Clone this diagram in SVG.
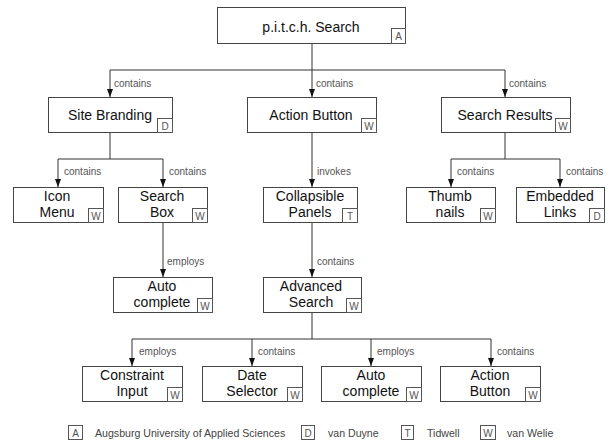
<svg xmlns="http://www.w3.org/2000/svg" width="607" height="443" viewBox="0 0 607 443">
<defs>
<style>
.box{fill:#fff;stroke:#444;stroke-width:1}
.bdg{fill:#fff;stroke:#555;stroke-width:1}
.t{font-family:"Liberation Sans",Arial,sans-serif;font-size:14px;fill:#111;text-anchor:middle}
.b{font-family:"Liberation Sans",Arial,sans-serif;font-size:10px;fill:#555;text-anchor:middle}
.l{font-family:"Liberation Sans",Arial,sans-serif;font-size:10px;fill:#555}
.c{fill:none;stroke:#333;stroke-width:1}
.lg{font-family:"Liberation Sans",Arial,sans-serif;font-size:10.6px;fill:#444}
</style>
<marker id="ar" markerWidth="8" markerHeight="6" refX="8" refY="3" orient="auto" markerUnits="userSpaceOnUse">
<path d="M0,0 L8,3 L0,6 z" fill="#111"/>
</marker>
</defs>
<rect width="607" height="443" fill="#fff"/>
<g id="connectors">
<path class="c" d="M312,43 V97" marker-end="url(#ar)"/>
<path class="c" d="M110,70 H505"/>
<path class="c" d="M110,70 V97" marker-end="url(#ar)"/>
<path class="c" d="M505,70 V97" marker-end="url(#ar)"/>
<path class="c" d="M110,132 V159 M58,159 H163"/>
<path class="c" d="M58,159 V187" marker-end="url(#ar)"/>
<path class="c" d="M163,159 V187" marker-end="url(#ar)"/>
<path class="c" d="M312,132 V187" marker-end="url(#ar)"/>
<path class="c" d="M505,132 V159 M451,159 H560"/>
<path class="c" d="M451,159 V187" marker-end="url(#ar)"/>
<path class="c" d="M560,159 V187" marker-end="url(#ar)"/>
<path class="c" d="M163,222 V277" marker-end="url(#ar)"/>
<path class="c" d="M312,222 V277" marker-end="url(#ar)"/>
<path class="c" d="M312,312 V339 M132,339 H491"/>
<path class="c" d="M132,339 V366" marker-end="url(#ar)"/>
<path class="c" d="M252,339 V366" marker-end="url(#ar)"/>
<path class="c" d="M371,339 V366" marker-end="url(#ar)"/>
<path class="c" d="M491,339 V366" marker-end="url(#ar)"/>
<text class="l" x="114" y="87">contains</text>
<text class="l" x="316" y="87">contains</text>
<text class="l" x="509" y="87">contains</text>
<text class="l" x="64" y="175">contains</text>
<text class="l" x="169" y="175">contains</text>
<text class="l" x="317" y="175">invokes</text>
<text class="l" x="457" y="175">contains</text>
<text class="l" x="566" y="175">contains</text>
<text class="l" x="167" y="265">employs</text>
<text class="l" x="317" y="265">contains</text>
<text class="l" x="139" y="355">employs</text>
<text class="l" x="258" y="355">contains</text>
<text class="l" x="377" y="355">employs</text>
<text class="l" x="497" y="355">contains</text>
</g>
<g id="pitch-search">
<rect class="box" x="217.5" y="7.5" width="188" height="36"/>
<text class="t" x="311" y="32">p.i.t.c.h. Search</text>
<rect class="bdg" x="391.5" y="28.5" width="14" height="15"/>
<text class="b" x="398.5" y="40">A</text>
</g>
<g id="site-branding">
<rect class="box" x="48.5" y="97.5" width="124" height="35"/>
<text class="t" x="110" y="120">Site Branding</text>
<rect class="bdg" x="157.5" y="118.5" width="15" height="14"/>
<text class="b" x="165" y="129.5">D</text>
</g>
<g id="action-button">
<rect class="box" x="247.5" y="97.5" width="129" height="35"/>
<text class="t" x="311" y="120">Action Button</text>
<rect class="bdg" x="361.5" y="118.5" width="15" height="14"/>
<text class="b" x="369" y="129.5">W</text>
</g>
<g id="search-results">
<rect class="box" x="441.5" y="97.5" width="129" height="35"/>
<text class="t" x="505" y="120">Search Results</text>
<rect class="bdg" x="555.5" y="118.5" width="15" height="14"/>
<text class="b" x="563" y="129.5">W</text>
</g>
<g id="icon-menu">
<rect class="box" x="13.5" y="187.5" width="90" height="35"/>
<text class="t" x="57" y="201">Icon</text>
<text class="t" x="57" y="217">Menu</text>
<rect class="bdg" x="88.5" y="208.5" width="15" height="14"/>
<text class="b" x="96" y="219.5">W</text>
</g>
<g id="search-box">
<rect class="box" x="118.5" y="187.5" width="89" height="35"/>
<text class="t" x="162" y="201">Search</text>
<text class="t" x="162" y="217">Box</text>
<rect class="bdg" x="192.5" y="208.5" width="15" height="14"/>
<text class="b" x="200" y="219.5">W</text>
</g>
<g id="collapsible-panels">
<rect class="box" x="263.5" y="187.5" width="94" height="35"/>
<text class="t" x="310" y="201">Collapsible</text>
<text class="t" x="310" y="217">Panels</text>
<rect class="bdg" x="342.5" y="208.5" width="15" height="14"/>
<text class="b" x="350" y="219.5">T</text>
</g>
<g id="thumbnails">
<rect class="box" x="406.5" y="187.5" width="89" height="35"/>
<text class="t" x="450" y="201">Thumb</text>
<text class="t" x="450" y="217">nails</text>
<rect class="bdg" x="480.5" y="208.5" width="15" height="14"/>
<text class="b" x="488" y="219.5">W</text>
</g>
<g id="embedded-links">
<rect class="box" x="516.5" y="187.5" width="88" height="35"/>
<text class="t" x="560" y="201">Embedded</text>
<text class="t" x="560" y="217">Links</text>
<rect class="bdg" x="589.5" y="208.5" width="15" height="14"/>
<text class="b" x="597" y="219.5">D</text>
</g>
<g id="auto-complete-1">
<rect class="box" x="113.5" y="277.5" width="99" height="35"/>
<text class="t" x="162" y="291">Auto</text>
<text class="t" x="162" y="307">complete</text>
<rect class="bdg" x="197.5" y="298.5" width="15" height="14"/>
<text class="b" x="205" y="309.5">W</text>
</g>
<g id="advanced-search">
<rect class="box" x="263.5" y="277.5" width="98" height="35"/>
<text class="t" x="311" y="291">Advanced</text>
<text class="t" x="311" y="307">Search</text>
<rect class="bdg" x="346.5" y="298.5" width="15" height="14"/>
<text class="b" x="354" y="309.5">W</text>
</g>
<g id="constraint-input">
<rect class="box" x="82.5" y="366.5" width="100" height="35"/>
<text class="t" x="132" y="380">Constraint</text>
<text class="t" x="132" y="396">Input</text>
<rect class="bdg" x="167.5" y="387.5" width="15" height="14"/>
<text class="b" x="175" y="398.5">W</text>
</g>
<g id="date-selector">
<rect class="box" x="202.5" y="366.5" width="100" height="35"/>
<text class="t" x="252" y="380">Date</text>
<text class="t" x="252" y="396">Selector</text>
<rect class="bdg" x="287.5" y="387.5" width="15" height="14"/>
<text class="b" x="295" y="398.5">W</text>
</g>
<g id="auto-complete-2">
<rect class="box" x="321.5" y="366.5" width="100" height="35"/>
<text class="t" x="371" y="380">Auto</text>
<text class="t" x="371" y="396">complete</text>
<rect class="bdg" x="406.5" y="387.5" width="15" height="14"/>
<text class="b" x="414" y="398.5">W</text>
</g>
<g id="action-button-2">
<rect class="box" x="440.5" y="366.5" width="100" height="35"/>
<text class="t" x="490" y="380">Action</text>
<text class="t" x="490" y="396">Button</text>
<rect class="bdg" x="525.5" y="387.5" width="15" height="14"/>
<text class="b" x="533" y="398.5">W</text>
</g>
<g id="legend">
<rect class="bdg" x="68.5" y="425.5" width="14" height="14"/>
<text class="b" x="75.5" y="436.5">A</text>
<text class="lg" x="95" y="437">Augsburg University of Applied Sciences</text>
<rect class="bdg" x="301.5" y="425.5" width="13" height="14"/>
<text class="b" x="308" y="436.5">D</text>
<text class="lg" x="328" y="437">van Duyne</text>
<rect class="bdg" x="401.5" y="425.5" width="12" height="14"/>
<text class="b" x="407.5" y="436.5">T</text>
<text class="lg" x="427" y="437">Tidwell</text>
<rect class="bdg" x="480.5" y="425.5" width="15" height="14"/>
<text class="b" x="488" y="436.5">W</text>
<text class="lg" x="507" y="437">van Welie</text>
</g>
</svg>
